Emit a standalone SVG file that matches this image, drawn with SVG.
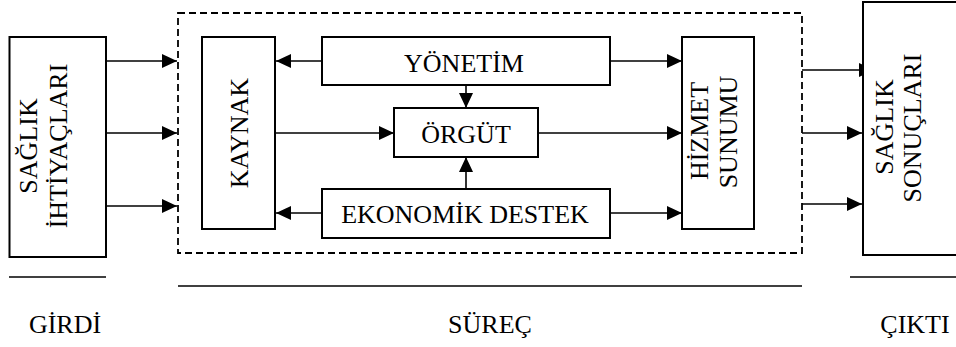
<svg xmlns="http://www.w3.org/2000/svg" width="956" height="347" viewBox="0 0 956 347">
<defs>
<marker id="ah" viewBox="0 0 15 14" refX="15" refY="7" markerWidth="15" markerHeight="14" markerUnits="userSpaceOnUse" orient="auto">
<path d="M0,0 L15,7 L0,14 Z" fill="#000"/>
</marker>
<style>
.box{fill:#fff;stroke:#000;stroke-width:2}
.dash{fill:none;stroke:#000;stroke-width:1.8;stroke-dasharray:7,4}
.ln{fill:none;stroke:#000;stroke-width:1.6}
.ar{fill:none;stroke:#000;stroke-width:1.6;marker-end:url(#ah)}
text{font-family:"Liberation Serif","Times New Roman",serif;font-size:26px;fill:#000;text-anchor:middle}
</style>
</defs>
<rect width="956" height="347" fill="#fff"/>
<rect id="process" class="dash" x="178" y="13" width="624" height="240"/>
<g id="connectors">
<line class="ar" x1="106" y1="61" x2="177" y2="61"/>
<line class="ar" x1="106" y1="133" x2="177" y2="133"/>
<line class="ar" x1="106" y1="206" x2="177" y2="206"/>
<line class="ar" x1="322" y1="61" x2="276" y2="61"/>
<line class="ar" x1="322" y1="213" x2="276" y2="213"/>
<line class="ar" x1="275" y1="133" x2="394" y2="133"/>
<line class="ar" x1="610" y1="61" x2="682" y2="61"/>
<line class="ar" x1="538" y1="133" x2="682" y2="133"/>
<line class="ar" x1="610" y1="213" x2="682" y2="213"/>
<line class="ar" x1="466" y1="85" x2="466" y2="108"/>
<line class="ar" x1="466" y1="189" x2="466" y2="157"/>
<line class="ar" x1="802" y1="70" x2="874" y2="70"/>
<line class="ar" x1="802" y1="133" x2="862" y2="133"/>
<line class="ar" x1="802" y1="204" x2="862" y2="204"/>
</g>
<g id="ihtiyaclar">
<rect class="box" x="9.5" y="37" width="96.5" height="220"/>
<text transform="translate(37,146) rotate(-90)">SAĞLIK</text>
<text transform="translate(67,146) rotate(-90)">İHTİYAÇLARI</text>
</g>
<g id="kaynak">
<rect class="box" x="202" y="37" width="73" height="192"/>
<text transform="translate(248,133) rotate(-90)">KAYNAK</text>
</g>
<g id="yonetim">
<rect class="box" x="322" y="37" width="288" height="48"/>
<text x="464" y="72">YÖNETİM</text>
</g>
<g id="orgut">
<rect class="box" x="394" y="108" width="144" height="49"/>
<text x="466" y="143">ÖRGÜT</text>
</g>
<g id="ekonomik">
<rect class="box" x="322" y="189" width="288" height="49"/>
<text x="465" y="223">EKONOMİK DESTEK</text>
</g>
<g id="hizmet">
<rect class="box" x="682" y="37" width="72" height="192"/>
<text transform="translate(708,131) rotate(-90)">HİZMET</text>
<text transform="translate(737,132) rotate(-90)">SUNUMU</text>
</g>
<g id="sonuclar">
<rect class="box" x="863" y="2" width="100" height="253"/>
<text transform="translate(893,127) rotate(-90)">SAĞLIK</text>
<text transform="translate(921,128) rotate(-90)">SONUÇLARI</text>
</g>
<g id="labels">
<line class="ln" x1="9" y1="277" x2="106" y2="277"/>
<line class="ln" x1="178" y1="286" x2="802" y2="286"/>
<line class="ln" x1="850" y1="277" x2="956" y2="277"/>
<text x="65" y="333">GİRDİ</text>
<text x="490" y="333">SÜREÇ</text>
<text x="915" y="333">ÇIKTI</text>
</g>
</svg>
